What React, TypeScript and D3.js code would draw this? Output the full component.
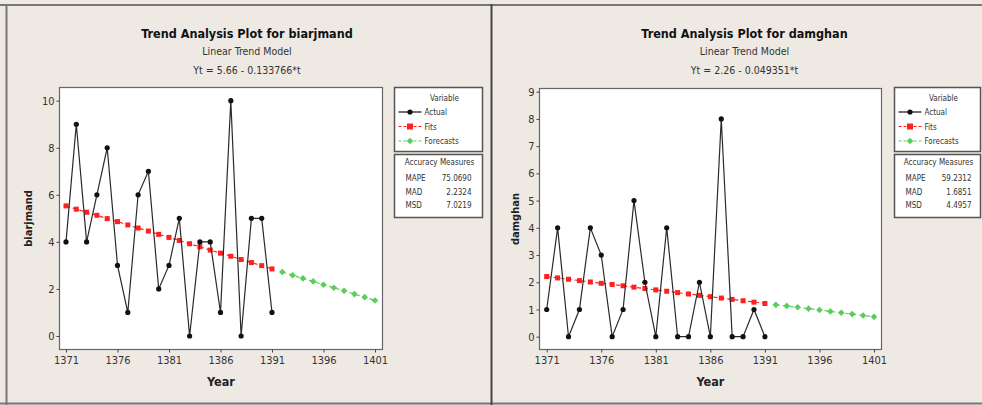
import React, { useEffect, useRef } from 'react'
import * as d3 from 'd3'

// years of observation and forecast horizon
const years = [1371, 1372, 1373, 1374, 1375, 1376, 1377, 1378, 1379, 1380, 1381,
  1382, 1383, 1384, 1385, 1386, 1387, 1388, 1389, 1390, 1391]
const forecastYears = [1392, 1393, 1394, 1395, 1396, 1397, 1398, 1399, 1400, 1401]
const xTicks = [1371, 1376, 1381, 1386, 1391, 1396, 1401]

// biarjmand
const biarjmandActual = [4, 9, 4, 6, 8, 3, 1, 6, 7, 2, 3, 5, 0, 4, 4, 1, 10, 0, 5, 5, 1]
const biarjmandFits = [5.53, 5.39, 5.26, 5.13, 4.99, 4.86, 4.72, 4.59, 4.46, 4.32, 4.19,
  4.06, 3.92, 3.79, 3.65, 3.52, 3.39, 3.25, 3.12, 2.99, 2.85]
const biarjmandForecasts = [2.72, 2.58, 2.45, 2.32, 2.18, 2.05, 1.92, 1.78, 1.65, 1.51]
const biarjmandMeasures = ['75.0690', '2.2324', '7.0219']

// damghan
const damghanActual = [1, 4, 0, 1, 4, 3, 0, 1, 5, 2, 0, 4, 0, 0, 2, 0, 8, 0, 0, 1, 0]
const damghanFits = [2.21, 2.16, 2.11, 2.06, 2.01, 1.96, 1.92, 1.87, 1.82, 1.77, 1.72,
  1.67, 1.62, 1.57, 1.52, 1.47, 1.42, 1.37, 1.32, 1.27, 1.22]
const damghanForecasts = [1.17, 1.13, 1.08, 1.03, 0.98, 0.93, 0.88, 0.83, 0.78, 0.73]
const damghanMeasures = ['59.2312', '1.6851', '4.4957']

const measureNames = ['MAPE', 'MAD', 'MSD']

const FONT = '"DejaVu Sans Condensed", "Liberation Sans Narrow", "DejaVu Sans", sans-serif'
const BG = '#efe9e3'

function drawPanel(svg, p) {
  const g = svg.append('g')
  const x = d3.scaleLinear().domain([1371, 1401]).range([p.x0, p.x1])
  const y = d3.scaleLinear().domain([0, p.yMax]).range([p.y0, p.y1])

  // titles
  const tx = p.titleX
  g.append('text').attr('x', tx).attr('y', 38).attr('text-anchor', 'middle')
    .attr('font-family', FONT).attr('font-weight', 'bold').attr('font-size', 12.5)
    .attr('fill', '#111').text(p.title)
  g.append('text').attr('x', tx).attr('y', 55).attr('text-anchor', 'middle')
    .attr('font-family', FONT).attr('font-size', 10.5).attr('fill', '#333')
    .text('Linear Trend Model')
  g.append('text').attr('x', tx).attr('y', 74).attr('text-anchor', 'middle')
    .attr('font-family', FONT).attr('font-size', 10.5).attr('fill', '#333')
    .text(p.equation)

  // plot frame
  g.append('rect').attr('x', p.fx0).attr('y', p.fy0)
    .attr('width', p.fx1 - p.fx0).attr('height', p.fy1 - p.fy0)
    .attr('fill', '#fff').attr('stroke', '#666').attr('stroke-width', 1.2)

  const yAxis = g.append('g').attr('transform', `translate(${p.fx0},0)`)
    .call(d3.axisLeft(y).tickValues(p.yTicks).tickFormat(d3.format('.1~f'))
      .tickSize(3).tickPadding(2))
  const xAxis = g.append('g').attr('transform', `translate(0,${p.fy1})`)
    .call(d3.axisBottom(x).tickValues(xTicks).tickFormat(d3.format('d'))
      .tickSize(3).tickPadding(4))
  for (const ax of [yAxis, xAxis]) {
    ax.select('.domain').remove()
    ax.selectAll('line').attr('stroke', '#444')
    ax.selectAll('text').attr('font-family', FONT).attr('font-size', 11).attr('fill', '#333')
  }

  g.append('text').attr('x', (p.fx0 + p.fx1) / 2).attr('y', 386).attr('text-anchor', 'middle')
    .attr('font-family', FONT).attr('font-weight', 'bold').attr('font-size', 12.5)
    .attr('fill', '#222').text('Year')
  g.append('text')
    .attr('transform', `translate(${p.labelX},${(p.fy0 + p.fy1) / 2}) rotate(-90)`)
    .attr('text-anchor', 'middle').attr('font-family', FONT).attr('font-weight', 'bold')
    .attr('font-size', 11).attr('fill', '#222').text(p.yLabel)

  const line = d3.line().x(d => x(d[0])).y(d => y(d[1]))
  const actual = years.map((yr, i) => [yr, p.actual[i]])
  const fits = years.map((yr, i) => [yr, p.fits[i]])
  const fc = forecastYears.map((yr, i) => [yr, p.forecasts[i]])

  // forecasts (green diamonds)
  g.append('path').attr('d', line(fc)).attr('fill', 'none')
    .attr('stroke', '#5ccc5c').attr('stroke-width', 1.2).attr('stroke-dasharray', '4,3')
  g.selectAll('path.fc').data(fc).join('path').attr('class', 'fc')
    .attr('d', d3.symbol(d3.symbolDiamond2, 28)())
    .attr('transform', d => `translate(${x(d[0])},${y(d[1])})`)
    .attr('fill', '#5ccc5c')

  // fits (red squares)
  g.append('path').attr('d', line(fits)).attr('fill', 'none')
    .attr('stroke', '#ff2020').attr('stroke-width', 1.2).attr('stroke-dasharray', '4,3')
  g.selectAll('rect.fit').data(fits).join('rect').attr('class', 'fit')
    .attr('x', d => x(d[0]) - 2.5).attr('y', d => y(d[1]) - 2.5)
    .attr('width', 5).attr('height', 5).attr('fill', '#ff2020')

  // actual (black circles)
  g.append('path').attr('d', line(actual)).attr('fill', 'none')
    .attr('stroke', '#2a2a2a').attr('stroke-width', 1.2)
  g.selectAll('circle.act').data(actual).join('circle').attr('class', 'act')
    .attr('cx', d => x(d[0])).attr('cy', d => y(d[1])).attr('r', 2.6).attr('fill', '#111')

  // legend boxes
  const lx = p.legendX, lw = p.legendW
  g.append('rect').attr('x', lx).attr('y', 87.5).attr('width', lw).attr('height', 64)
    .attr('fill', '#fff').attr('stroke', '#555').attr('stroke-width', 1.5)
  g.append('rect').attr('x', lx).attr('y', 154.5).attr('width', lw).attr('height', 63)
    .attr('fill', '#fff').attr('stroke', '#555').attr('stroke-width', 1.5)
  const small = (sel) => sel.attr('font-family', FONT).attr('font-size', 8).attr('fill', '#333')
  small(g.append('text').attr('x', lx + lw / 2 + 6).attr('y', 101).attr('text-anchor', 'middle')
    .text('Variable'))
  const items = [
    { name: 'Actual', color: '#111', dash: null },
    { name: 'Fits', color: '#ff2020', dash: '3,2' },
    { name: 'Forecasts', color: '#5ccc5c', dash: '3,2' },
  ]
  items.forEach((it, i) => {
    const yy = 112 + i * 14.5
    g.append('line').attr('x1', lx + 4).attr('x2', lx + 27).attr('y1', yy).attr('y2', yy)
      .attr('stroke', it.color).attr('stroke-width', 1.2).attr('stroke-dasharray', it.dash)
    const mk = lx + 15.5
    if (i === 0) g.append('circle').attr('cx', mk).attr('cy', yy).attr('r', 2.6).attr('fill', it.color)
    if (i === 1) g.append('rect').attr('x', mk - 3).attr('y', yy - 3).attr('width', 6).attr('height', 6).attr('fill', it.color)
    if (i === 2) g.append('path').attr('d', d3.symbol(d3.symbolDiamond2, 28)())
      .attr('transform', `translate(${mk},${yy})`).attr('fill', it.color)
    small(g.append('text').attr('x', lx + 30).attr('y', yy + 3).text(it.name))
  })
  small(g.append('text').attr('x', lx + lw / 2 + 1).attr('y', 165).attr('text-anchor', 'middle')
    .text('Accuracy Measures'))
  measureNames.forEach((m, i) => {
    const yy = 181 + i * 13.5
    small(g.append('text').attr('x', lx + 11).attr('y', yy).text(m))
    small(g.append('text').attr('x', lx + 77).attr('y', yy).attr('text-anchor', 'end')
      .text(p.measures[i]))
  })
}

const panels = [
  {
    title: 'Trend Analysis Plot for biarjmand', equation: 'Yt = 5.66 - 0.133766*t',
    yLabel: 'biarjmand', actual: biarjmandActual, fits: biarjmandFits,
    forecasts: biarjmandForecasts, measures: biarjmandMeasures,
    yMax: 10, yTicks: [0, 2, 4, 6, 8, 10],
    x0: 66, x1: 375, y0: 336, y1: 100.7, fx0: 59.5, fx1: 382.5, fy0: 87.5, fy1: 349.5,
    titleX: 247, labelX: 32, legendX: 394.5, legendW: 88,
  },
  {
    title: 'Trend Analysis Plot for damghan', equation: 'Yt = 2.26 - 0.049351*t',
    yLabel: 'damghan', actual: damghanActual, fits: damghanFits,
    forecasts: damghanForecasts, measures: damghanMeasures,
    yMax: 9, yTicks: [0, 1, 2, 3, 4, 5, 6, 7, 8, 9],
    x0: 546.7, x1: 874, y0: 336.7, y1: 91.7, fx0: 539.5, fx1: 881.5, fy0: 88.5, fy1: 349.5,
    titleX: 744.5, labelX: 519, legendX: 894.5, legendW: 86,
  },
]

function drawChart(el) {
  const svg = d3.select(el)
  svg.selectAll('*').remove()
  svg.append('rect').attr('width', 982).attr('height', 405).attr('fill', BG)
  // outer frames
  svg.append('line').attr('x1', 0).attr('x2', 982).attr('y1', 5).attr('y2', 5)
    .attr('stroke', '#777').attr('stroke-width', 2)
  svg.append('line').attr('x1', 0).attr('x2', 982).attr('y1', 403.5).attr('y2', 403.5)
    .attr('stroke', '#777').attr('stroke-width', 2)
  svg.append('line').attr('x1', 6.5).attr('x2', 6.5).attr('y1', 4).attr('y2', 405)
    .attr('stroke', '#777').attr('stroke-width', 2)
  svg.append('line').attr('x1', 491.5).attr('x2', 491.5).attr('y1', 4).attr('y2', 405)
    .attr('stroke', '#444').attr('stroke-width', 2)
  panels.forEach(p => drawPanel(svg, p))
}

export default function App() {
  const ref = useRef(null)
  useEffect(() => {
    drawChart(ref.current)
  }, [])
  return (
    <svg ref={ref} width={982} height={405}
      style={{ position: 'absolute', left: 0, top: 0, display: 'block' }} />
  )
}
